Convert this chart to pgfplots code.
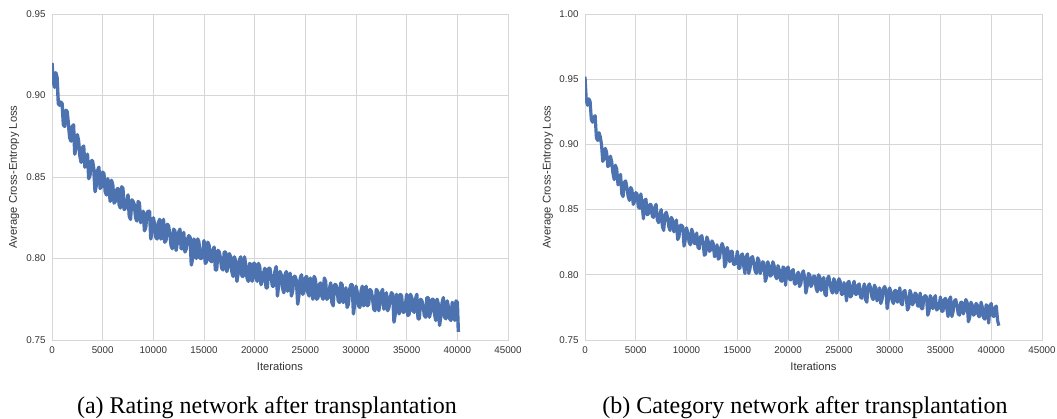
\documentclass[border=0pt]{standalone}
\usepackage{pgfplots}
\pgfplotsset{compat=1.18}
\usepackage{pgfplotstable}
\usepackage{fontspec}
\setmainfont{Liberation Serif}
\newfontfamily\lsans{Liberation Sans}
\definecolor{sbblue}{HTML}{4C72B0}
\definecolor{gridc}{HTML}{D6D6D6}
\definecolor{tickc}{HTML}{333333}

\pgfplotstableread{
x y
0 0.920
125 0.909
250 0.905
375 0.914
500 0.911
625 0.895
750 0.894
875 0.896
1000 0.895
1125 0.882
1250 0.881
1375 0.891
1500 0.890
1625 0.882
1750 0.874
1875 0.872
2000 0.881
2125 0.882
2250 0.864
2375 0.869
2500 0.876
2625 0.872
2750 0.863
2875 0.859
3000 0.868
3125 0.869
3250 0.856
3375 0.859
3500 0.864
3625 0.849
3750 0.851
3875 0.860
4000 0.860
4125 0.855
4250 0.841
4375 0.845
4500 0.854
4625 0.856
4750 0.843
4875 0.844
5000 0.853
5125 0.852
5250 0.841
5375 0.839
5500 0.849
5625 0.842
5750 0.835
5875 0.848
6000 0.845
6125 0.834
6250 0.835
6375 0.842
6500 0.843
6625 0.833
6750 0.831
6875 0.844
7000 0.843
7125 0.830
7250 0.831
7375 0.835
7500 0.839
7625 0.826
7750 0.824
7875 0.836
8000 0.835
8125 0.833
8250 0.825
8375 0.823
8500 0.835
8625 0.834
8750 0.822
8875 0.824
9000 0.829
9125 0.817
9250 0.819
9375 0.828
9500 0.829
9625 0.829
9750 0.812
9875 0.817
10000 0.825
10125 0.821
10250 0.813
10375 0.812
10500 0.822
10625 0.824
10750 0.812
10875 0.813
11000 0.824
11125 0.810
11250 0.811
11375 0.821
11500 0.820
11625 0.815
11750 0.808
11875 0.806
12000 0.818
12125 0.817
12250 0.805
12375 0.810
12500 0.816
12625 0.818
12750 0.806
12875 0.806
13000 0.816
13125 0.804
13250 0.806
13375 0.812
13500 0.814
13625 0.813
13750 0.796
13875 0.800
14000 0.812
14125 0.808
14250 0.800
14375 0.812
14500 0.810
14625 0.800
14750 0.800
14875 0.803
15000 0.811
15125 0.797
15250 0.798
15375 0.810
15500 0.808
15625 0.799
15750 0.798
15875 0.805
16000 0.807
16125 0.793
16250 0.793
16375 0.805
16500 0.804
16625 0.800
16750 0.794
16875 0.793
17000 0.804
17125 0.804
17250 0.792
17375 0.795
17500 0.803
17625 0.801
17750 0.792
17875 0.789
18000 0.801
18125 0.798
18250 0.786
18375 0.791
18500 0.799
18625 0.801
18750 0.789
18875 0.789
19000 0.801
19125 0.795
19250 0.788
19375 0.786
19500 0.797
19625 0.796
19750 0.786
19875 0.797
20000 0.797
20125 0.788
20250 0.786
20375 0.797
20500 0.795
20625 0.784
20750 0.786
20875 0.791
21000 0.794
21125 0.782
21250 0.782
21375 0.794
21500 0.794
21625 0.789
21750 0.783
21875 0.783
22000 0.792
22125 0.795
22250 0.777
22375 0.785
22500 0.792
22625 0.790
22750 0.782
22875 0.779
23000 0.790
23125 0.792
23250 0.780
23375 0.784
23500 0.791
23625 0.777
23750 0.780
23875 0.789
24000 0.789
24125 0.786
24250 0.772
24375 0.778
24500 0.788
24625 0.790
24750 0.778
24875 0.780
25000 0.788
25125 0.789
25250 0.779
25375 0.777
25500 0.788
25625 0.781
25750 0.775
25875 0.789
26000 0.787
26125 0.775
26250 0.776
26375 0.784
26500 0.785
26625 0.777
26750 0.775
26875 0.788
27000 0.786
27125 0.775
27250 0.776
27375 0.781
27500 0.785
27625 0.773
27750 0.771
27875 0.784
28000 0.784
28125 0.782
28250 0.774
28375 0.773
28500 0.785
28625 0.784
28750 0.773
28875 0.776
29000 0.782
29125 0.770
29250 0.772
29375 0.781
29500 0.784
29625 0.784
29750 0.766
29875 0.773
30000 0.783
30125 0.779
30250 0.771
30375 0.770
30500 0.780
30625 0.783
30750 0.771
30875 0.773
31000 0.783
31125 0.771
31250 0.772
31375 0.781
31500 0.780
31625 0.776
31750 0.769
31875 0.768
32000 0.781
32125 0.780
32250 0.768
32375 0.773
32500 0.779
32625 0.781
32750 0.769
32875 0.770
33000 0.779
33125 0.768
33250 0.770
33375 0.776
33500 0.779
33625 0.778
33750 0.761
33875 0.766
34000 0.778
34125 0.774
34250 0.766
34375 0.778
34500 0.777
34625 0.767
34750 0.767
34875 0.771
35000 0.778
35125 0.765
35250 0.766
35375 0.778
35500 0.776
35625 0.768
35750 0.767
35875 0.775
36000 0.778
36125 0.763
36250 0.763
36375 0.775
36500 0.774
36625 0.771
36750 0.765
36875 0.764
37000 0.776
37125 0.776
37250 0.764
37375 0.768
37500 0.775
37625 0.775
37750 0.766
37875 0.762
38000 0.775
38125 0.772
38250 0.759
38375 0.765
38500 0.773
38625 0.776
38750 0.764
38875 0.763
39000 0.774
39125 0.770
39250 0.763
39375 0.762
39500 0.773
39625 0.772
39750 0.762
39875 0.774
40000 0.773
40100 0.755
}\ratingdata

\pgfplotstableread{
x y
0 0.952
125 0.934
250 0.930
375 0.935
500 0.933
625 0.919
750 0.917
875 0.921
1000 0.922
1125 0.905
1250 0.903
1375 0.909
1500 0.906
1625 0.900
1750 0.887
1875 0.889
2000 0.897
2125 0.894
2250 0.883
2375 0.884
2500 0.891
2625 0.887
2750 0.878
2875 0.873
3000 0.884
3125 0.881
3250 0.869
3375 0.872
3500 0.877
3625 0.862
3750 0.860
3875 0.871
4000 0.872
4125 0.867
4250 0.860
4375 0.857
4500 0.867
4625 0.865
4750 0.854
4875 0.856
5000 0.863
5125 0.862
5250 0.852
5375 0.851
5500 0.862
5625 0.854
5750 0.843
5875 0.857
6000 0.858
6125 0.846
6250 0.847
6375 0.854
6500 0.854
6625 0.845
6750 0.844
6875 0.852
7000 0.854
7125 0.842
7250 0.840
7375 0.846
7500 0.850
7625 0.837
7750 0.834
7875 0.846
8000 0.848
8125 0.844
8250 0.837
8375 0.834
8500 0.844
8625 0.842
8750 0.833
8875 0.835
9000 0.842
9125 0.827
9250 0.829
9375 0.838
9500 0.838
9625 0.837
9750 0.822
9875 0.827
10000 0.836
10125 0.832
10250 0.825
10375 0.823
10500 0.835
10625 0.832
10750 0.824
10875 0.824
11000 0.832
11125 0.821
11250 0.820
11375 0.829
11500 0.830
11625 0.825
11750 0.815
11875 0.816
12000 0.829
12125 0.826
12250 0.818
12375 0.819
12500 0.826
12625 0.824
12750 0.814
12875 0.815
13000 0.823
13125 0.812
13250 0.813
13375 0.821
13500 0.824
13625 0.821
13750 0.806
13875 0.809
14000 0.821
14125 0.817
14250 0.810
14375 0.818
14500 0.818
14625 0.808
14750 0.808
14875 0.811
15000 0.818
15125 0.805
15250 0.805
15375 0.815
15500 0.816
15625 0.807
15750 0.801
15875 0.814
16000 0.816
16125 0.801
16250 0.805
16375 0.813
16500 0.814
16625 0.809
16750 0.803
16875 0.801
17000 0.813
17125 0.811
17250 0.801
17375 0.804
17500 0.810
17625 0.809
17750 0.795
17875 0.798
18000 0.810
18125 0.807
18250 0.799
18375 0.800
18500 0.810
18625 0.807
18750 0.799
18875 0.797
19000 0.807
19125 0.804
19250 0.796
19375 0.795
19500 0.806
19625 0.805
19750 0.792
19875 0.804
20000 0.806
20125 0.797
20250 0.796
20375 0.803
20500 0.804
20625 0.793
20750 0.793
20875 0.800
21000 0.802
21125 0.791
21250 0.793
21375 0.801
21500 0.803
21625 0.798
21750 0.786
21875 0.791
22000 0.801
22125 0.800
22250 0.791
22375 0.793
22500 0.799
22625 0.799
22750 0.790
22875 0.787
23000 0.800
23125 0.798
23250 0.788
23375 0.792
23500 0.798
23625 0.785
23750 0.784
23875 0.797
24000 0.799
24125 0.794
24250 0.788
24375 0.786
24500 0.797
24625 0.795
24750 0.786
24875 0.788
25000 0.797
25125 0.795
25250 0.785
25375 0.785
25500 0.794
25625 0.789
25750 0.780
25875 0.794
26000 0.795
26125 0.783
26250 0.784
26375 0.792
26500 0.795
26625 0.785
26750 0.785
26875 0.792
27000 0.793
27125 0.783
27250 0.782
27375 0.789
27500 0.793
27625 0.781
27750 0.779
27875 0.791
28000 0.793
28125 0.790
28250 0.783
28375 0.781
28500 0.792
28625 0.790
28750 0.780
28875 0.784
29000 0.790
29125 0.778
29250 0.781
29375 0.789
29500 0.791
29625 0.789
29750 0.774
29875 0.781
30000 0.790
30125 0.787
30250 0.780
30375 0.778
30500 0.788
30625 0.788
30750 0.779
30875 0.781
31000 0.790
31125 0.778
31250 0.777
31375 0.787
31500 0.788
31625 0.783
31750 0.773
31875 0.775
32000 0.788
32125 0.785
32250 0.777
32375 0.779
32500 0.786
32625 0.785
32750 0.776
32875 0.776
33000 0.786
33125 0.774
33250 0.774
33375 0.783
33500 0.784
33625 0.783
33750 0.769
33875 0.772
34000 0.784
34125 0.781
34250 0.774
34375 0.782
34500 0.784
34625 0.773
34750 0.774
34875 0.777
35000 0.783
35125 0.772
35250 0.772
35375 0.781
35500 0.782
35625 0.774
35750 0.768
35875 0.781
36000 0.783
36125 0.768
36250 0.772
36375 0.780
36500 0.781
36625 0.777
36750 0.770
36875 0.769
37000 0.779
37125 0.779
37250 0.770
37375 0.773
37500 0.781
37625 0.779
37750 0.764
37875 0.767
38000 0.779
38125 0.777
38250 0.769
38375 0.770
38500 0.778
38625 0.777
38750 0.768
38875 0.768
39000 0.779
39125 0.775
39250 0.767
39375 0.766
39500 0.777
39625 0.776
39750 0.763
39875 0.776
40000 0.778
40125 0.769
40250 0.768
40375 0.775
40500 0.776
40625 0.765
40750 0.761
}\categorydata

\pgfplotsset{
  sbstyle/.style={
    scale only axis,
    height=326pt,
    anchor=south west,
    xmin=0, xmax=45000,
    xtick={0,5000,10000,15000,20000,25000,30000,35000,40000,45000},
    scaled x ticks=false,
    scaled y ticks=false,
    grid=major,
    major grid style={gridc, line width=0.9pt},
    axis line style={gridc, line width=0.9pt},
    major tick length=0pt,
    /pgf/number format/assume math mode=true,
    tick label style={font=\lsans\fontsize{9.8}{11}\selectfont, text=tickc},
    xticklabel style={/pgf/number format/set thousands separator={}, yshift=-3pt},
    yticklabel style={/pgf/number format/.cd, fixed, fixed zerofill, precision=2, /tikz/xshift=-3pt},
    label style={font=\lsans\fontsize{11.2}{13}\selectfont, text=tickc},
    xlabel={Iterations},
    ylabel={Average Cross-Entropy Loss},
    xlabel style={at={(axis description cs:0.5,-0.0828)}, anchor=center},
  }
}

\begin{document}
\begin{tikzpicture}
\path[use as bounding box] (0pt,0pt) rectangle (1057pt,-419pt);
\begin{axis}[sbstyle, at={(52pt,-340pt)}, width=456pt,
  ymin=0.75, ymax=0.95, ytick={0.75,0.80,0.85,0.90,0.95},
  ylabel style={at={(axis description cs:-0.0833,0.5)}, anchor=center}]
\addplot[sbblue, line width=3.4pt, line join=round, line cap=butt] table[x=x, y=y] {\ratingdata};
\end{axis}
\begin{axis}[sbstyle, at={(585pt,-340pt)}, width=457pt,
  ymin=0.75, ymax=1.00, ytick={0.75,0.80,0.85,0.90,0.95,1.00},
  ylabel style={at={(axis description cs:-0.081,0.5)}, anchor=center}]
\addplot[sbblue, line width=3.2pt, line join=round, line cap=butt] table[x=x, y=y] {\categorydata};
\end{axis}
\node[font=\fontsize{24}{28}\selectfont, anchor=base] at (267pt,-413pt) {(a) Rating network after transplantation};
\node[font=\fontsize{24}{28}\selectfont, anchor=base] at (805pt,-413pt) {(b) Category network after transplantation};
\end{tikzpicture}
\end{document}
